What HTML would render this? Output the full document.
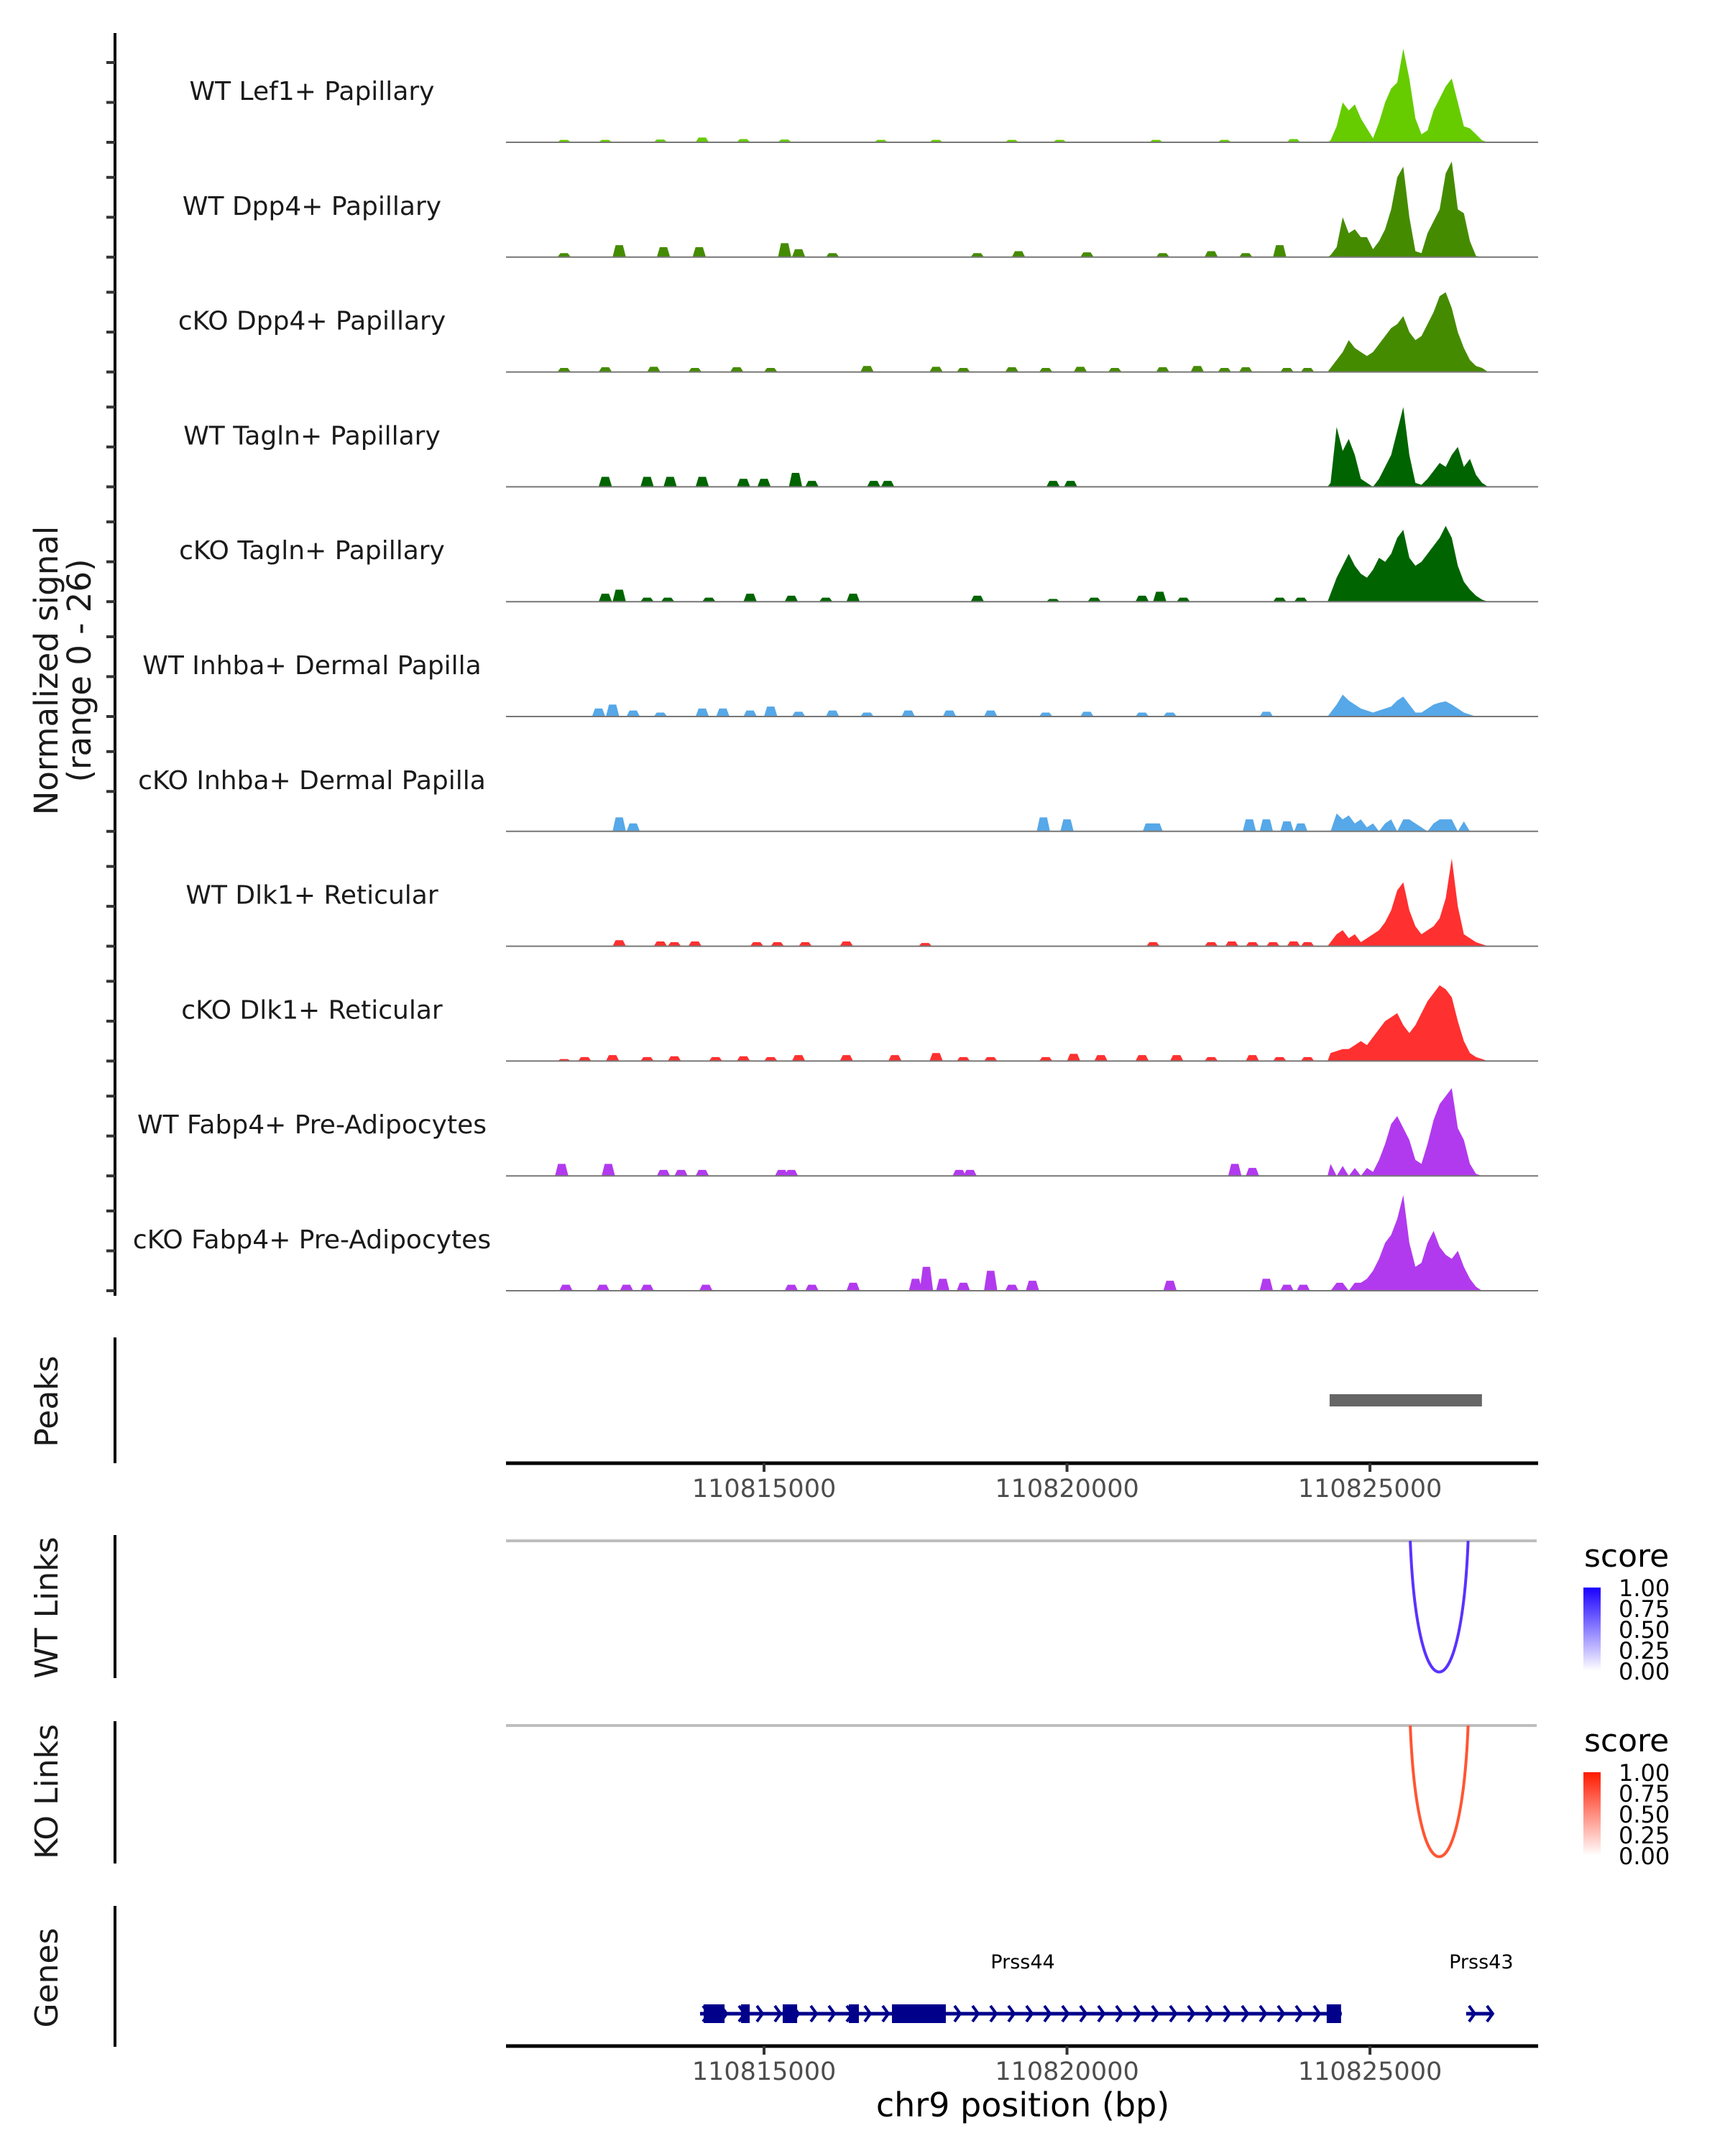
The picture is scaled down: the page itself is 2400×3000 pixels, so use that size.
<!DOCTYPE html>
<html><head><meta charset="utf-8">
<style>
html,body{margin:0;padding:0;background:#fff;}
svg{display:block;font-family:"DejaVu Sans","Liberation Sans",sans-serif;}
</style></head>
<body>
<svg id="fig" width="2400" height="3000" viewBox="0 0 2400 3000" xmlns="http://www.w3.org/2000/svg">
<g id="tracks"></g>
<g id="static">
  <text x="0" y="0" transform="translate(80,933) rotate(-90)" text-anchor="middle" font-size="45" fill="#1a1a1a"><tspan x="0" dy="0">Normalized signal</tspan><tspan x="0" dy="46">(range 0 - 26)</tspan></text>
  <text transform="translate(80,1950) rotate(-90)" text-anchor="middle" font-size="44" fill="#1a1a1a">Peaks</text>
  <text transform="translate(80,2237) rotate(-90)" text-anchor="middle" font-size="44" fill="#1a1a1a">WT Links</text>
  <text transform="translate(80,2493) rotate(-90)" text-anchor="middle" font-size="44" fill="#1a1a1a">KO Links</text>
  <text transform="translate(80,2752) rotate(-90)" text-anchor="middle" font-size="44" fill="#1a1a1a">Genes</text>
  <line x1="160" y1="46" x2="160" y2="1803" stroke="#000" stroke-width="4"/>
  <line x1="160" y1="1861" x2="160" y2="2036" stroke="#000" stroke-width="4"/>
  <line x1="160" y1="2136" x2="160" y2="2335" stroke="#000" stroke-width="4"/>
  <line x1="160" y1="2395" x2="160" y2="2593" stroke="#000" stroke-width="4"/>
  <line x1="160" y1="2652" x2="160" y2="2848" stroke="#000" stroke-width="4"/>
  <line x1="704" y1="2036" x2="2140" y2="2036" stroke="#000" stroke-width="5"/>
  <line x1="704" y1="2847" x2="2140" y2="2847" stroke="#000" stroke-width="5"/>
  <line x1="704" y1="2144" x2="2138" y2="2144" stroke="#bebebe" stroke-width="4"/>
  <line x1="704" y1="2401" x2="2138" y2="2401" stroke="#bebebe" stroke-width="4"/>
  <text x="1423" y="2945" text-anchor="middle" font-size="46" fill="#000">chr9 position (bp)</text>
  <defs>
    <linearGradient id="gb" x1="0" y1="1" x2="0" y2="0"><stop offset="0" stop-color="#ffffff"/><stop offset="1" stop-color="#1a00ff"/></linearGradient>
    <linearGradient id="gr" x1="0" y1="1" x2="0" y2="0"><stop offset="0" stop-color="#ffffff"/><stop offset="1" stop-color="#ff1a00"/></linearGradient>
  </defs>
  <g>
    <text x="2204" y="2180" font-size="44" fill="#000">score</text>
    <rect x="2203" y="2209" width="24" height="116" fill="url(#gb)"/>
    <g font-size="32" fill="#000">
      <text x="2252" y="2221">1.00</text><text x="2252" y="2250">0.75</text><text x="2252" y="2279">0.50</text><text x="2252" y="2308">0.25</text><text x="2252" y="2337">0.00</text>
    </g>
  </g>
  <g>
    <text x="2204" y="2437" font-size="44" fill="#000">score</text>
    <rect x="2203" y="2466" width="24" height="116" fill="url(#gr)"/>
    <g font-size="32" fill="#000">
      <text x="2252" y="2478">1.00</text><text x="2252" y="2507">0.75</text><text x="2252" y="2536">0.50</text><text x="2252" y="2565">0.25</text><text x="2252" y="2594">0.00</text>
    </g>
  </g>
</g>
<g id="dyn"></g>
</svg>
<script>
// ---- data ----
const trackNames = ["WT Lef1+ Papillary","WT Dpp4+ Papillary","cKO Dpp4+ Papillary","WT Tagln+ Papillary","cKO Tagln+ Papillary","WT Inhba+ Dermal Papilla","cKO Inhba+ Dermal Papilla","WT Dlk1+ Reticular","cKO Dlk1+ Reticular","WT Fabp4+ Pre-Adipocytes","cKO Fabp4+ Pre-Adipocytes"];
const trackColors = ["#66cc00","#458b00","#458b00","#006400","#006400","#56a8e8","#56a8e8","#ff3030","#ff3030","#b23aee","#b23aee"];
const coreStartBp = 110824300;
const coreBinBp = 100;
const core1 = [0.5,4,10,8,9.5,6,3.5,1,5,10,13.5,15,23.5,16,6,2,3,8,11,14,16,10,4,3.5,2,0.5,0];
const core2 = [0.5,2.5,10,6,7,5,5,2,4,7,12,20,22.7,10,1.5,1,6,9,12,21,24,12,11,4,0.3,0,0];
const core3 = [1,3,5,8,6,5,4,5,7,9,11,12,14,10,8,9,12,15,19,20,16,10,6,3,1.5,1,0];
const core4 = [1,15,9,12,8,2,1,0,2,5,8,14,20,8,1,0.5,2,4,6,5,8,10,5,7,3,1,0];
const core5 = [2,6,9,12,9,7,6,8,11,10,12,16,18,11,9,10,12,14,16,19,16,9,5,3,1.5,0.5,0];
const core6 = [1,3,5.5,4,3,2,1.5,1,1.5,2,2.5,4,5,3,1,1,2,3,3.5,3.8,3,2,1,0.5,0,0,0];
const core7 = [0,4.5,3,4,2,3,1,2,0,2,3,0,3,3,2,1,0,2,3,3,3,0,2.5,0,0,0,0];
const core8 = [1,3,4,2,3,1,2,3,4,6,9,14,16,9,5,3,4,5,7,12,22,10,3,2,1,0.5,0];
const core9 = [2,2.5,3,3,4,5,4,6,8,10,11,12,9,7,9,12,15,17,19,18,16,10,5,2,1,0.5,0];
const core10 = [3,0,2.5,0,2,0,2,1,4,8,13,15,12,9,4,3,8,14,18,20,22,12,9,3,0.5,0,0];
const core11 = [0,2,2,0,2,2,3,5,8,12,14,18,24,12,6,7,12,15,11,9,8,10,6,3,1,0,0];
const cores = [core1,core2,core3,core4,core5,core6,core7,core8,core9,core10,core11];
const bgPos1 = [110811.70,110812.38,110813.29,110813.98,110814.66,110815.34,110816.93,110817.84,110819.09,110819.88,110821.47,110822.60,110823.74];
const bgVal1 = [0.6,0.6,0.7,1.2,0.8,0.7,0.6,0.6,0.6,0.6,0.6,0.6,0.8];
const bgPos2 = [110811.70,110812.61,110813.34,110813.93,110815.34,110815.57,110816.13,110818.52,110819.20,110820.33,110821.58,110822.38,110822.95,110823.51];
const bgVal2 = [1,3,2.5,2.5,3.5,2,1,1,1.5,1.2,1,1.5,1,3];
const bgPos3 = [110811.70,110812.38,110813.18,110813.86,110814.55,110815.11,110816.70,110817.84,110818.29,110819.09,110819.65,110820.22,110820.79,110821.58,110822.15,110822.60,110822.95,110823.63,110823.97];
const bgVal3 = [1,1.2,1.3,1,1.2,1,1.5,1.3,1,1.2,1,1.3,1,1.2,1.5,1,1.2,1,1];
const bgPos4 = [110812.38,110813.07,110813.45,110813.98,110814.66,110815.00,110815.52,110815.79,110816.81,110817.04,110819.77,110820.06];
const bgVal4 = [2.5,2.5,2.5,2.5,2,2,3.5,1.5,1.5,1.5,1.5,1.5];
const bgPos5 = [110812.38,110812.61,110813.07,110813.41,110814.09,110814.77,110815.45,110816.02,110816.47,110818.52,110819.77,110820.45,110821.24,110821.53,110821.92,110823.51,110823.86];
const bgVal5 = [2,3,1,1,1,2,1.5,1,2,1.5,0.7,1,1.5,2.5,1,1,1];
const bgPos6 = [110812.27,110812.50,110812.84,110813.29,110813.98,110814.32,110814.77,110815.11,110815.57,110816.13,110816.70,110817.38,110818.06,110818.74,110819.65,110820.33,110821.24,110821.70,110823.29];
const bgVal6 = [2,3,1.5,1,2,2,1.5,2.5,1.2,1.5,1,1.5,1.5,1.5,1,1.2,1,1,1.2];
const bgPos7 = [110812.61,110812.84,110819.61,110820.00,110821.36,110821.47,110823.01,110823.29,110823.63,110823.86];
const bgVal7 = [3.5,2,3.5,3,2,2,3,3,2.5,2];
const bgPos8 = [110812.61,110813.29,110813.52,110813.86,110814.88,110815.22,110815.68,110816.36,110817.66,110821.42,110822.38,110822.72,110823.06,110823.40,110823.74,110823.97];
const bgVal8 = [1.5,1.2,1,1.2,1,1,1,1.2,0.8,1,1,1.2,1,1,1.2,1];
const bgPos9 = [110811.70,110812.04,110812.50,110813.07,110813.52,110814.20,110814.66,110815.11,110815.57,110816.36,110817.16,110817.84,110818.29,110818.74,110819.65,110820.11,110820.56,110821.24,110821.81,110822.38,110823.06,110823.51,110823.97];
const bgVal9 = [0.5,1,1.5,1,1.2,1,1.2,1,1.5,1.5,1.5,2,1,1,1,1.8,1.5,1.5,1.5,1,1.5,1,1];
const bgPos10 = [110811.66,110812.43,110813.34,110813.63,110813.98,110815.29,110815.45,110818.22,110818.40,110822.77,110823.06];
const bgVal10 = [3,3,1.5,1.5,1.5,1.5,1.5,1.5,1.5,3,2];
const bgPos11 = [110811.73,110812.34,110812.73,110813.07,110814.04,110815.45,110815.79,110816.47,110817.50,110817.68,110817.95,110818.29,110818.74,110819.09,110819.43,110821.70,110823.29,110823.63,110823.90];
const bgVal11 = [1.5,1.5,1.5,1.5,1.5,1.5,1.5,2,3,6,3,2,5,1.5,2.5,2.5,3,1.5,1.5];
const bgPos = [bgPos1,bgPos2,bgPos3,bgPos4,bgPos5,bgPos6,bgPos7,bgPos8,bgPos9,bgPos10,bgPos11];
const bgVal = [bgVal1,bgVal2,bgVal3,bgVal4,bgVal5,bgVal6,bgVal7,bgVal8,bgVal9,bgVal10,bgVal11];
const xTicks = [110815000,110820000,110825000];
const xTickLabels = ["110815000","110820000","110825000"];
const yTickValues = [0,10,20];
const peakStarts = [110824334];
const peakEnds = [110826848];
const linkStarts = [110825665];
const linkEnds = [110826620];
const linkScores = [1.0];
const exonStarts = [110814004,110814620,110815308,110816399,110817111,110824286];
const exonEnds = [110814348,110814763,110815546,110816565,110818000,110824523];
const geneNames = ["Prss44","Prss43"];
const geneStarts = [110813944,110826587];
const geneEnds = [110824535,110827038];
const geneLabelPos = [110819270,110826836];

// ---- scales ----
const X0 = 110810741, PXBP = 421.5/5000, PLOT_L = 704, PLOT_R = 2140;
function xs(bp){ return PLOT_L + (bp - X0) * PXBP; }
const BASE0 = 198, TRACK_STEP = 159.8, UNIT = 5.55;
function base(i){ return BASE0 + i * TRACK_STEP; }
function ys(i, v){ return base(i) - v * UNIT; }

const NS = "http://www.w3.org/2000/svg";
const dyn = document.getElementById("dyn");
function mk(tag, attrs, parent){ const e = document.createElementNS(NS, tag); for (const k in attrs) e.setAttribute(k, attrs[k]); (parent||dyn).appendChild(e); return e; }

trackNames.forEach((name, i) => {
  const g = mk("g", {});
  
  
  yTickValues.forEach(v => {
    const t = mk("line", {x1:148, x2:160, y1:ys(i,v), y2:ys(i,v), stroke:"#333", "stroke-width":4}, g);
    
    
  });
  const lb = mk("text", {x:434, y:base(i)-59, "text-anchor":"middle", "font-size":36, fill:"#1a1a1a"}, g);
  lb.textContent = name;
  
  
  const pos = bgPos[i], val = bgVal[i];
  let d = "";
  pos.forEach((kb, j) => {
    const c = kb * 1000, h = val[j];
    d += "M" + xs(c-110) + "," + base(i) + "L" + xs(c-60) + "," + ys(i,h) + "L" + xs(c+60) + "," + ys(i,h) + "L" + xs(c+110) + "," + base(i) + "Z";
  });
  const bg = mk("path", {d:d, fill:trackColors[i]}, g);
  
  
  const arr = cores[i];
  let pts = [[xs(coreStartBp), base(i)]];
  arr.forEach((v, k) => { pts.push([xs(coreStartBp + coreBinBp*(k+0.5)), ys(i, v)]); });
  pts.push([xs(coreStartBp + coreBinBp*arr.length), base(i)]);
  const cp = mk("polygon", {points: pts.map(p => p.join(",")).join(" "), fill:trackColors[i]}, g);
  
  
  const bl = mk("line", {x1:PLOT_L, x2:PLOT_R, y1:base(i), y2:base(i), stroke:"#777", "stroke-width":2}, g);
  
  
});
[2036, 2847].forEach((ay) => {
  xTicks.forEach((t, j) => {
    const tk = mk("line", {x1:xs(t), x2:xs(t), y1:ay, y2:ay+12, stroke:"#333", "stroke-width":4});
    
    
    const tl = mk("text", {x:xs(t), y:ay+47, "text-anchor":"middle", "font-size":35, fill:"#4d4d4d"});
    tl.textContent = xTickLabels[j];
    
    
  });
});
peakStarts.forEach((s, j) => {
  const r = mk("rect", {x:xs(s), y:1940, width:xs(peakEnds[j])-xs(s), height:17, fill:"#666"});
  
  
});
[[2144, "#5a32ff"], [2401, "#ff5533"]].forEach(([by, col], k) => {
  linkStarts.forEach((s, j) => {
    const x1 = xs(s), x2 = xs(linkEnds[j]), depth = 183 * linkScores[j];
    const p = mk("path", {d:"M"+x1+","+by+" C"+(x1+(x2-x1)*0.12)+","+(by+depth*1.33)+" "+(x2-(x2-x1)*0.12)+","+(by+depth*1.33)+" "+x2+","+by, fill:"none", stroke:col, "stroke-width":4});
    
    
  });
});
const GY = 2802;
geneStarts.forEach((s, j) => {
  const g = mk("g", {});
  
  
  const x1 = xs(s), x2 = xs(geneEnds[j]);
  mk("line", {x1:x1, x2:x2, y1:GY, y2:GY, stroke:"#00008b", "stroke-width":5}, g);
  for (let x = x1 + 8; x < x2 - 4; x += 25) {
    mk("path", {d:"M"+(x-4)+","+(GY-11)+" L"+(x+4)+","+GY+" L"+(x-4)+","+(GY+11), fill:"none", stroke:"#00008b", "stroke-width":4}, g);
  }
  const lab = mk("text", {x:xs(geneLabelPos[j]), y:2739, "text-anchor":"middle", "font-size":27, fill:"#000"}, g);
  lab.textContent = geneNames[j];
  
  
});
exonStarts.forEach((s, j) => {
  const r = mk("rect", {x:xs(s), y:GY-13, width:xs(exonEnds[j])-xs(s), height:26, fill:"#00008b"});
  
  
});
</script>
</body></html>
